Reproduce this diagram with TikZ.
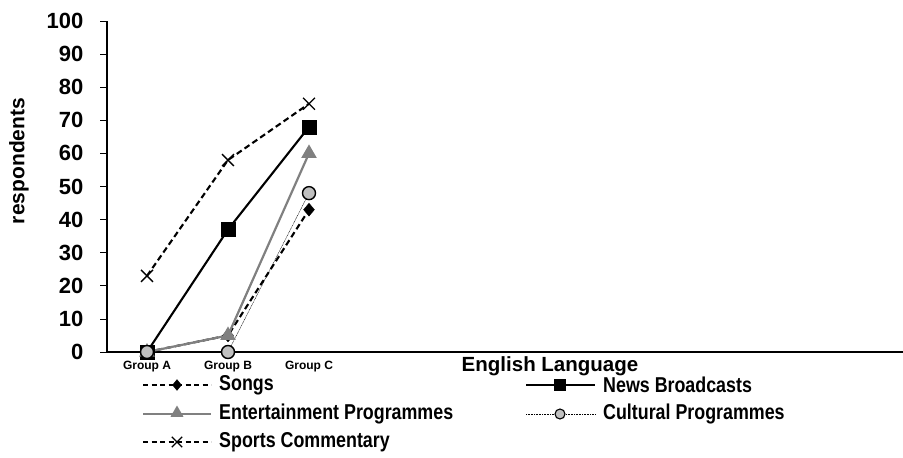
\documentclass[tikz,border=0pt]{standalone}
\usepackage{fontspec}
\setmainfont{Liberation Sans}
\newfontfamily\narrowfont[FakeStretch=0.83]{Liberation Sans}
\usetikzlibrary{shapes.geometric,shapes.misc}
\begin{document}
\begin{tikzpicture}[x=1pt,y=-1pt,
  tick/.style={font=\bfseries\fontsize{22}{22}\selectfont, anchor=east, inner sep=0pt},
  grp/.style={font=\bfseries\fontsize{12}{12}\selectfont, inner sep=0pt},
  leg/.style={font=\narrowfont\bfseries\fontsize{21.5}{21.5}\selectfont, anchor=west, inner sep=0pt},
  songline/.style={black, line width=2.1pt, dash pattern=on 6pt off 3.5pt},
  newsline/.style={black, line width=2.1pt},
  entline/.style={line width=2.2pt, color={rgb,255:red,128;green,128;blue,128}},
  cultline/.style={black, line width=0.4pt, dash pattern=on 1pt off 0.6pt},
  sportline/.style={black, line width=2.1pt, dash pattern=on 6pt off 3.5pt},
  mdia/.style={diamond, fill=black, draw=black, inner sep=0pt, minimum width=11pt, minimum height=13pt},
  msq/.style={rectangle, fill=black, draw=black, inner sep=0pt, minimum size=14pt},
  mtri/.style={regular polygon, regular polygon sides=3, fill={rgb,255:red,128;green,128;blue,128}, inner sep=0pt, minimum size=18pt},
  mcirc/.style={circle, fill={rgb,255:red,192;green,192;blue,192}, draw=black, line width=1.4pt, inner sep=0pt, minimum size=13pt},
  mx/.style={cross out, draw=black, line width=1.4pt, inner sep=0pt, minimum size=10.5pt},
]
\useasboundingbox (0,0) rectangle (903,458);
% axes
\coordinate (yt) at (107,21);
\coordinate (o) at (107,352);
\coordinate (xe) at (903,352);
\draw[line width=1.3pt] (yt) -- (o) -- (xe);
\foreach \v in {0,10,...,100}{
  \pgfmathsetmacro{\yy}{352-3.31*\v}
  \coordinate (t\v) at (100,\yy);
  \coordinate (u\v) at (107,\yy);
  \draw[line width=0.8pt] (t\v) -- (u\v);
  \node[tick] (l\v) at (83.5,\yy) {\v};
}
\node[grp] (ga) at (147,367) {Group A};
\node[grp] (gb) at (228,367) {Group B};
\node[grp] (gc) at (309,367) {Group C};
\node[font=\bfseries\fontsize{20.5}{20.5}\selectfont, inner sep=0pt] (xt) at (550,366) {English Language};
\node[font=\bfseries\fontsize{21}{21}\selectfont, rotate=90, inner sep=0pt] (yl) at (19,161) {respondents};

% data coordinates
\def\py#1{352-3.31*#1}
% Cultural
\coordinate (c1) at (147,{\py{0}});
\coordinate (c2) at (228,{\py{0}});
\coordinate (c3) at (309,{\py{48}});
% Songs
\coordinate (s1) at (147,{\py{0}});
\coordinate (s2) at (228,{\py{5}});
\coordinate (s3) at (309,{\py{43}});
% Entertainment
\coordinate (e1) at (147,{\py{0}});
\coordinate (e2) at (228,{\py{5}});
\coordinate (e3) at (309,{\py{60}});
% News
\coordinate (n1) at (147,{\py{0}});
\coordinate (n2) at (228,{\py{37}});
\coordinate (n3) at (309,{\py{68}});
% Sports
\coordinate (p1) at (147,{\py{23}});
\coordinate (p2) at (228,{\py{58}});
\coordinate (p3) at (309,{\py{75}});

\draw[sportline] (p1) -- (p2) -- (p3);
\draw[newsline] (n1) -- (n2) -- (n3);
\draw[songline] (s1) -- (s2) -- (s3);
\draw[cultline] (c1) -- (c2) -- (c3);
\draw[entline] (e1) -- (e2) -- (e3);

\foreach \c in {n1,n2,n3}{\node[msq] at (\c) {};}
\foreach \c in {s1,s2,s3}{\node[mdia] at (\c) {};}
\foreach \c in {e1,e2,e3}{\node[mtri] at (\c) {};}
\foreach \c in {c1,c2,c3}{\node[mcirc] at (\c) {};}
\foreach \c in {p1,p2,p3}{\node[mx] at (\c) {};}

% legend
\coordinate (la1) at (143,385); \coordinate (lb1) at (211,385);
\draw[songline, line width=1.8pt, dash pattern=on 5pt off 3.5pt] (la1) -- (lb1);
\node[mdia, minimum width=9pt, minimum height=11pt] (lm1) at (177,385) {};
\node[leg] (lt1) at (219,385) {Songs};

\coordinate (la2) at (526,385); \coordinate (lb2) at (595,385);
\draw[newsline] (la2) -- (lb2);
\node[msq, minimum size=11pt] (lm2) at (560,385) {};
\node[leg] (lt2) at (603,385) {News Broadcasts};

\coordinate (la3) at (143,414); \coordinate (lb3) at (211,414);
\draw[entline] (la3) -- (lb3);
\node[mtri, minimum size=15pt] (lm3) at (177,413) {};
\node[leg] (lt3) at (219,414) {Entertainment Programmes};

\coordinate (la4) at (526,414); \coordinate (lb4) at (595,414);
\draw[cultline] (la4) -- (lb4);
\node[mcirc, minimum size=10pt, line width=1.1pt] (lm4) at (560,414) {};
\node[leg] (lt4) at (603,414) {Cultural Programmes};

\coordinate (la5) at (143,442); \coordinate (lb5) at (211,442);
\draw[sportline, line width=1.8pt, dash pattern=on 5pt off 3.5pt] (la5) -- (lb5);
\node[mx, minimum size=9pt] (lm5) at (177,442) {};
\node[leg] (lt5) at (219,442) {Sports Commentary};
\end{tikzpicture}
\end{document}
